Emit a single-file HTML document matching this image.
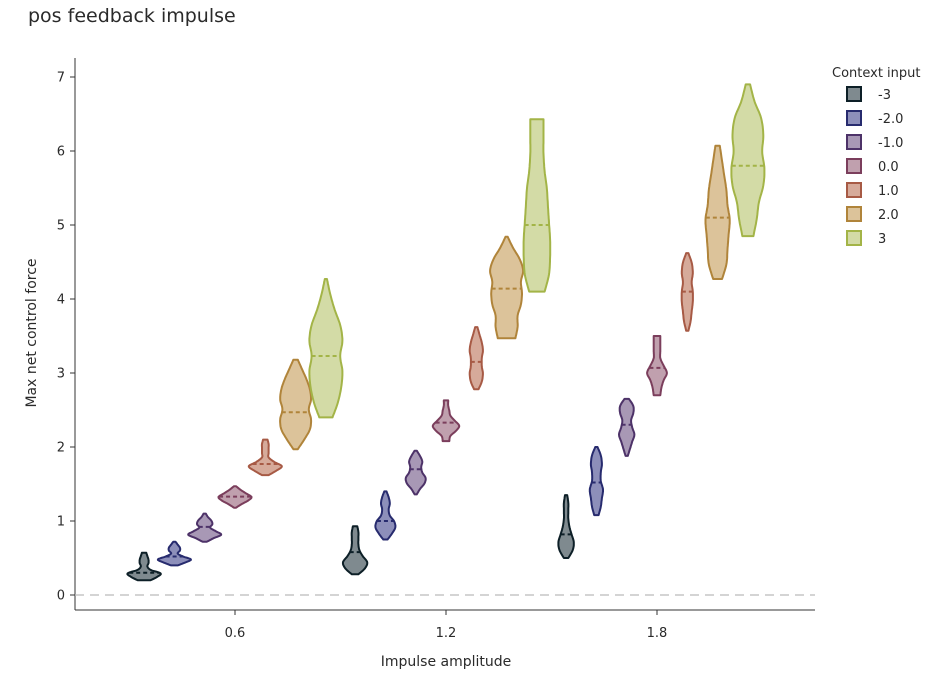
<!DOCTYPE html>
<html><head><meta charset="utf-8"><style>
body{margin:0;background:#fff;font-family:"Liberation Sans","DejaVu Sans",sans-serif;}
svg text{font-family:"DejaVu Sans","Liberation Sans",sans-serif;fill:#2a2a2a;}
</style></head><body>
<svg id="chart" width="946" height="674" xmlns="http://www.w3.org/2000/svg">
<text x="28" y="22" font-size="19">pos feedback impulse</text>
<g id="plot"></g>
</svg>
<script>
const categories=["-3","-2.0","-1.0","0.0","1.0","2.0","3"];
const groups=[0.6,1.2,1.8];
const yTicks=[0,1,2,3,4,5,6,7];
const xTicks=[0.6,1.2,1.8];
const strokeColors=["#0d1f27","#272b6e","#4d3268","#7b3e5c","#a75a45","#b0843a","#a3b447"];
const fillColors=["#7f8a8f","#8d8fba","#a898b5","#c0a0ae","#d6aa9a","#dcc39a","#d3dba6"];
// [min,max,median] per group per category
const ranges=[
 [[0.2,0.57,0.3],[0.4,0.72,0.52],[0.72,1.1,0.92],[1.18,1.47,1.33],[1.62,2.1,1.77],[1.97,3.18,2.47],[2.4,4.27,3.23]],
 [[0.28,0.93,0.58],[0.75,1.4,1.0],[1.36,1.95,1.7],[2.08,2.63,2.33],[2.78,3.62,3.15],[3.47,4.84,4.14],[4.1,6.43,5.0]],
 [[0.5,1.35,0.82],[1.08,2.0,1.52],[1.88,2.65,2.3],[2.7,3.5,3.07],[3.57,4.62,4.1],[4.27,6.07,5.1],[4.85,6.9,5.8]]
];
// density profiles (relative half-widths, bottom to top)
const densities=[
 [[6,12,15,6,3,4,4,3,2],[3,10,15,8,3,5,5,3,1],[2,8,15,10,5,7,6,3,1],[1,6,12,15,10,5,1],[3,10,15,8,3,3,3,3,2],[2,8,13,14,12,14,13,10,6,2],[6,11,14,15,13,15,13,8,4,1]],
 [[3,9,11,7,4,3,3,3,2],[2,6,9,8,4,3,4,3,1],[1,4,8,9,6,5,6,4,1],[3,4,9,12,8,4,3,2,2],[2,5,6,5,5,6,5,3,1],[8,10,10,13,14,13,15,12,6,1],[7,11,12,12,11,10,9,7,6,6,6]],
 [[2,6,7,5,3,2,2,2,1],[2,4,5,6,4,4,5,4,1],[1,3,5,7,5,4,6,6,2],[3,4,6,9,6,3,3,3,3],[1,3,4,5,5,4,5,4,1],[4,8,9,10,11,9,8,6,4,2],[5,8,10,14,15,13,14,12,6,2]]
];
const X0=75,X1=815,Y0=610,YT=58;
const yScale=v=>595-v*74;
const xScale=v=>235+(v-0.6)*(211/0.6);
const wScale=w=>w*1.1;
const catOffset=i=>(i-3)*30.3;
const NS="http://www.w3.org/2000/svg";
const plot=document.getElementById('plot');
function mk(tag,attrs,parent){const e=document.createElementNS(NS,tag);for(const k in attrs)e.setAttribute(k,attrs[k]);(parent||plot).appendChild(e);return e;}
let ax=mk('line',{x1:X0,y1:YT,x2:X0,y2:Y0,stroke:'#333','stroke-width':1});


let bx=mk('line',{x1:X0,y1:Y0,x2:X1,y2:Y0,stroke:'#333','stroke-width':1});


let zl=mk('line',{x1:X0,y1:yScale(0),x2:X1,y2:yScale(0),stroke:'#bbb','stroke-width':1.3,'stroke-dasharray':'9,6'});


yTicks.forEach(t=>{
 const y=yScale(t);
 mk('line',{x1:X0-5,y1:y,x2:X0,y2:y,stroke:'#333'});
 const tx=mk('text',{x:X0-10,y:y+4.5,'font-size':13,'text-anchor':'end'});
 tx.textContent=t;
 
 
});
xTicks.forEach(t=>{
 const x=xScale(t);
 mk('line',{x1:x,y1:Y0,x2:x,y2:Y0+5,stroke:'#333'});
 const tx=mk('text',{x:x,y:Y0+27,'font-size':13,'text-anchor':'middle'});
 tx.textContent=t;
 
 
});
const xt=mk('text',{x:446,y:666,'font-size':14,'text-anchor':'middle'});
xt.textContent='Impulse amplitude';


const yt=mk('text',{x:0,y:0,'font-size':14,'text-anchor':'middle',transform:'translate(36,333) rotate(-90)'});
yt.textContent='Max net control force';


function interpW(d,mn,mx,v){const f=(v-mn)/(mx-mn)*(d.length-1);const i=Math.min(Math.floor(f),d.length-2);const t=f-i;return d[i]*(1-t)+d[i+1]*t;}
function smoothPts(pts){
 const out=[];
 for(let i=0;i<pts.length-1;i++){
  const p0=pts[Math.max(i-1,0)],p1=pts[i],p2=pts[i+1],p3=pts[Math.min(i+2,pts.length-1)];
  for(let s=0;s<8;s++){const t=s/8,t2=t*t,t3=t2*t;
   out.push([0.5*((2*p1[0])+(-p0[0]+p2[0])*t+(2*p0[0]-5*p1[0]+4*p2[0]-p3[0])*t2+(-p0[0]+3*p1[0]-3*p2[0]+p3[0])*t3),
             0.5*((2*p1[1])+(-p0[1]+p2[1])*t+(2*p0[1]-5*p1[1]+4*p2[1]-p3[1])*t2+(-p0[1]+3*p1[1]-3*p2[1]+p3[1])*t3)]);}
 }
 out.push(pts[pts.length-1]);return out;
}
groups.forEach((g,gi)=>{
 categories.forEach((c,ci)=>{
  const [mn,mx,md]=ranges[gi][ci];const d=densities[gi][ci];
  const cx=xScale(g)+catOffset(ci);
  const prof=d.map((w,k)=>[mn+(mx-mn)*k/(d.length-1),wScale(w)]);
  const sm=smoothPts(prof);
  const right=sm.map(p=>[cx+Math.max(p[1],0.5),yScale(p[0])]);
  const left=sm.slice().reverse().map(p=>[cx-Math.max(p[1],0.5),yScale(p[0])]);
  const all=right.concat(left);
  const dstr='M'+all.map(p=>p[0].toFixed(1)+','+p[1].toFixed(1)).join('L')+'Z';
  const v=mk('path',{d:dstr,fill:fillColors[ci],stroke:strokeColors[ci],'stroke-width':2,'stroke-linejoin':'round'});
  
  
  const w=wScale(interpW(d,mn,mx,md));
  const m=mk('line',{x1:cx-w,y1:yScale(md),x2:cx+w,y2:yScale(md),stroke:strokeColors[ci],'stroke-width':2,'stroke-dasharray':'4,3'});
  
  
 });
});
const lt=mk('text',{x:832,y:77,'font-size':13});
lt.textContent='Context input';


categories.forEach((c,i)=>{
 const y=94+i*24;
 const r=mk('rect',{x:847,y:y-7,width:14,height:14,fill:fillColors[i],stroke:strokeColors[i],'stroke-width':2});
 
 
 const t=mk('text',{x:878,y:y+5,'font-size':13});
 t.textContent=c;
 
 
});
</script>
</body></html>
